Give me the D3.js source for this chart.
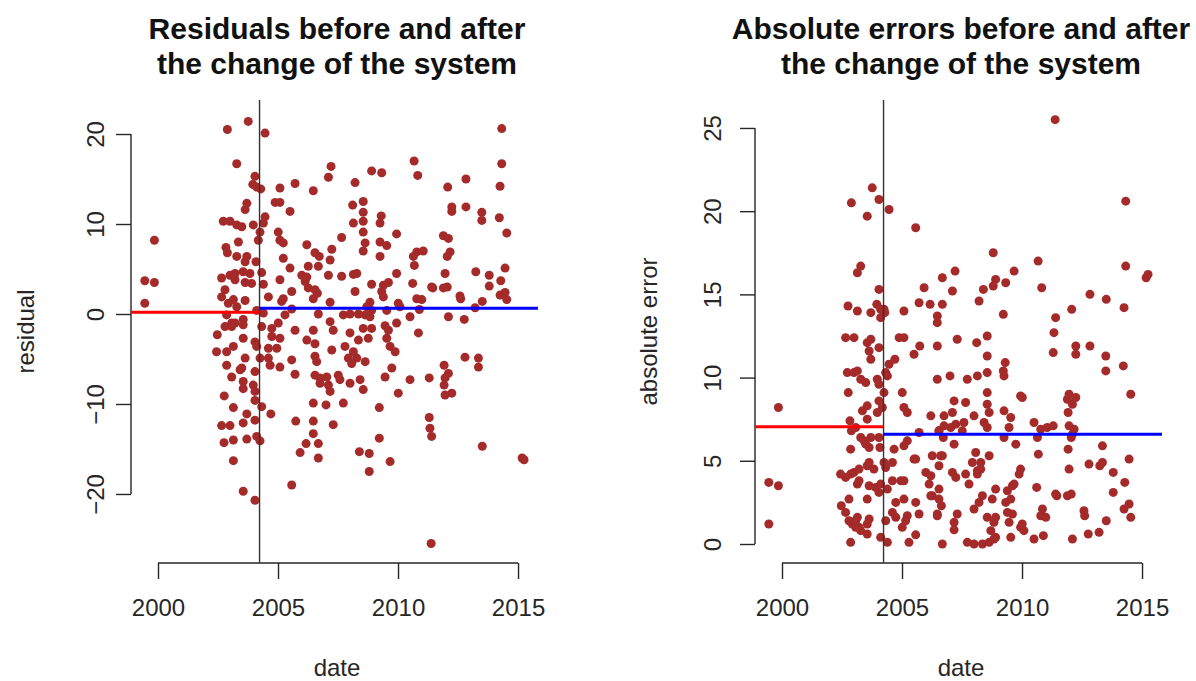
<!DOCTYPE html>
<html><head><meta charset="utf-8">
<script src="https://cdn.jsdelivr.net/npm/d3@7"></script>
<style>
body{margin:0;background:#fff}
text{font-family:"Liberation Sans",Arial,Helvetica,sans-serif}
</style>
</head><body>
<svg id="chart" width="1196" height="681"></svg>
<script>
// ---------------- data ----------------
const dates = [
1999.45,1999.85,1999.85,1999.45,2002.89,2003.28,2002.72,2003.00,2002.83,2002.89,
2002.65,2003.00,2002.79,2002.65,2002.93,2002.86,2003.07,2002.79,2003.07,2002.47,
2002.44,2002.86,2003.14,2002.86,2003.07,2002.76,2003.14,2002.65,2003.00,2002.75,
2003.14,2003.14,2003.76,2004.46,2004.04,2003.95,2004.11,2004.28,2005.08,2005.71,
2006.47,2007.21,2007.10,2004.88,2005.08,2005.50,2003.70,2003.63,2004.46,2004.39,
2003.28,2003.49,2003.97,2004.25,2003.35,2004.18,2005.01,2005.08,2005.22,2006.20,
2006.54,2006.72,2007.24,2003.70,2003.63,2003.28,2004.08,2005.22,2005.50,2006.26,
2006.68,2007.17,2004.32,2003.83,2003.55,2003.21,2005.99,2006.20,2006.13,2007.10,
2005.08,2003.63,2003.90,2004.39,2003.21,2006.26,2006.54,2006.64,2005.57,2005.22,
2005.15,2004.60,2003.63,2006.47,2007.17,2003.14,2003.28,2005.57,2004.11,2004.39,
2003.55,2003.21,2005.29,2004.74,2005.01,2006.68,2007.17,2005.71,2006.47,2004.32,
2010.67,2010.82,2008.90,2009.32,2008.21,2008.55,2008.11,2008.55,2009.30,2009.25,
2008.14,2008.55,2008.55,2007.65,2009.94,2008.63,2008.55,2009.25,2009.53,2009.25,
2010.78,2011.05,2010.64,2010.68,2007.65,2008.14,2008.28,2009.94,2008.90,2009.39,
2009.60,2010.61,2011.40,2008.21,2009.32,2009.39,2008.83,2008.70,2008.90,2010.01,
2010.08,2010.78,2010.99,2010.89,2009.53,2007.72,2008.00,2008.35,2008.63,2008.83,
2010.50,2007.30,2008.55,2008.90,2009.46,2009.60,2009.94,2010.85,2008.00,2014.32,
2014.32,2012.83,2012.07,2014.25,2012.24,2012.24,2012.83,2013.49,2013.49,2014.22,
2014.53,2011.89,2012.10,2012.17,2012.05,2011.96,2013.24,2013.80,2014.46,2014.28,
2013.80,2011.45,2011.89,2012.05,2012.58,2012.61,2014.25,2014.46,2014.53,2013.51,
2013.21,2012.10,2012.76,2003.55,2003.55,2004.04,2004.11,2004.74,2005.08,2004.60,
2004.95,2006.20,2006.54,2007.24,2003.63,2004.25,2004.60,2004.67,2005.57,2006.54,
2006.61,2003.49,2003.42,2004.04,2005.08,2005.71,2006.54,2006.75,2007.03,2006.75,
2007.10,2003.55,2003.55,2003.97,2004.04,2004.04,2007.17,2004.32,2003.70,2004.70,
2004.04,2003.55,2006.47,2007.00,2005.74,2006.47,2007.30,2006.47,2003.70,2004.11,
2004.25,2006.17,2006.68,2005.92,2006.68,2003.55,2004.04,2005.57,2008.35,2008.76,
2009.53,2007.79,2008.14,2007.93,2008.07,2008.28,2008.63,2009.67,2009.88,2009.74,
2009.46,2010.50,2011.30,2007.51,2007.58,2008.00,2008.42,2008.55,2010.01,2007.72,
2009.22,2011.30,2011.33,2011.40,2009.22,2008.39,2008.80,2009.67,2008.80,2011.38,
2012.79,2013.35,2013.35,2011.92,2012.10,2011.96,2011.92,2011.96,2012.24,2013.51,
2015.17,2015.25
];

const residuals = [
3.7,3.5,8.2,1.2,20.5,16.7,10.3,10.3,7.4,6.8,
4.0,4.3,2.7,1.9,1.2,-0.1,-1.0,-1.4,-1.4,-2.3,
-4.2,-4.2,-3.6,-5.7,-7.0,-9.1,-10.4,-12.4,-12.4,-14.3,
-14.0,-16.3,21.4,20.1,15.3,14.4,14.1,13.9,14.0,14.5,
13.7,16.4,15.2,12.4,12.4,11.4,12.3,11.6,10.8,10.1,
9.9,9.7,9.9,9.1,8.0,8.2,9.1,8.2,7.9,7.7,
6.8,6.4,7.2,6.4,5.8,6.4,5.8,6.2,5.1,5.3,
5.3,6.0,4.6,4.5,4.7,4.5,4.3,4.1,3.6,4.3,
3.8,3.5,3.4,3.3,3.8,2.9,2.7,2.3,2.5,1.7,
1.4,1.9,1.5,1.7,1.3,1.6,0.8,0.55,0.4,0.1,
-0.6,-1.0,-0.1,-1.6,-1.0,0.0,-0.85,-1.8,-1.8,-1.4,
17.0,15.4,15.9,15.7,14.6,12.5,12.1,11.3,10.9,10.1,
10.1,10.3,9.1,8.5,8.9,7.9,7.0,8.0,7.6,6.4,
6.9,7.0,6.4,5.4,4.2,4.4,4.5,4.5,3.3,3.2,
3.5,3.4,3.0,2.5,2.5,1.9,1.3,0.8,0.4,1.2,
0.8,1.7,1.6,0.5,0.4,-0.1,0.0,0.0,-0.1,-0.3,
-0.3,-1.8,-1.6,-1.6,-1.3,-1.8,-1.0,-2.1,-2.1,20.6,
16.7,15.0,14.1,14.2,11.9,11.4,11.9,11.3,10.4,10.7,
9.0,8.7,8.4,6.9,6.4,4.5,4.7,4.3,5.1,3.7,
3.1,2.9,2.9,3.0,2.0,1.7,2.1,2.4,1.6,1.4,
0.7,-0.3,-0.6,-1.2,-2.7,-3.1,-3.6,-2.5,-2.7,-3.8,
-3.8,-2.9,-3.3,-4.0,-4.9,-4.9,-4.9,-5.7,-5.1,-4.7,
-5.3,-6.0,-6.2,-6.4,-5.9,-6.7,-6.8,-7.1,-7.0,-7.7,
-7.9,-7.5,-8.3,-7.9,-8.6,-9.6,-8.6,-10.3,-11.1,-11.1,
-11.8,-12.1,-9.9,-10.1,-11.9,-11.9,-12.3,-13.3,-13.9,-13.6,
-14.1,-14.4,-14.4,-15.4,-16.0,-19.7,-20.7,-19.0,-2.9,-2.7,
-2.7,-3.6,-4.2,-4.9,-5.5,-4.9,-5.3,-3.6,-4.2,-6.0,
-7.0,-7.3,-7.1,-6.8,-7.3,-7.7,-7.3,-8.4,-8.8,-9.9,
-10.4,-11.5,-12.7,-13.6,-13.8,-15.3,-15.5,-16.4,-17.5,-25.5,
-4.8,-4.9,-5.9,-5.7,-6.6,-7.1,-7.9,-9.0,-8.8,-14.7,
-16.0,-16.2
];

const absErrors = [
3.7,3.5,8.2,1.2,20.5,16.7,10.3,10.3,7.4,6.8,
4.0,4.3,2.7,1.9,1.2,0.1,1.0,1.4,1.4,2.3,
4.2,4.2,3.6,5.7,7.0,9.1,10.4,12.4,12.4,14.3,
14.0,16.3,21.4,20.1,15.3,14.4,14.1,13.9,14.0,14.5,
13.7,16.4,15.2,12.4,12.4,11.4,12.3,11.6,10.8,10.1,
9.9,9.7,9.9,9.1,8.0,8.2,9.1,8.2,7.9,7.7,
6.8,6.4,7.2,6.4,5.8,6.4,5.8,6.2,5.1,5.3,
5.3,6.0,4.6,4.5,4.7,4.5,4.3,4.1,3.6,4.3,
3.8,3.5,3.4,3.3,3.8,2.9,2.7,2.3,2.5,1.7,
1.4,1.9,1.5,1.7,1.3,1.6,0.8,0.55,0.4,0.1,
0.6,1.0,0.1,1.6,1.0,0.0,0.85,1.8,1.8,1.4,
17.0,15.4,15.9,15.7,14.6,12.5,12.1,11.3,10.9,10.1,
10.1,10.3,9.1,8.5,8.9,7.9,7.0,8.0,7.6,6.4,
6.9,7.0,6.4,5.4,4.2,4.4,4.5,4.5,3.3,3.2,
3.5,3.4,3.0,2.5,2.5,1.9,1.3,0.8,0.4,1.2,
0.8,1.7,1.6,0.5,0.4,0.1,0.0,0.0,0.1,0.3,
0.3,1.8,1.6,1.6,1.3,1.8,1.0,2.1,2.1,20.6,
16.7,15.0,14.1,14.2,11.9,11.4,11.9,11.3,10.4,10.7,
9.0,8.7,8.4,6.9,6.4,4.5,4.7,4.3,5.1,3.7,
3.1,2.9,2.9,3.0,2.0,1.7,2.1,2.4,1.6,1.4,
0.7,0.3,0.6,1.2,2.7,3.1,3.6,2.5,2.7,3.8,
3.8,2.9,3.3,4.0,4.9,4.9,4.9,5.7,5.1,4.7,
5.3,6.0,6.2,6.4,5.9,6.7,6.8,7.1,7.0,7.7,
7.9,7.5,8.3,7.9,8.6,9.6,8.6,10.3,11.1,11.1,
11.8,12.1,9.9,10.1,11.9,11.9,12.3,13.3,13.9,13.6,
14.1,14.4,14.4,15.4,16.0,19.7,20.7,19.0,2.9,2.7,
2.7,3.6,4.2,4.9,5.5,4.9,5.3,3.6,4.2,6.0,
7.0,7.3,7.1,6.8,7.3,7.7,7.3,8.4,8.8,9.9,
10.4,11.5,12.7,13.6,13.8,15.3,15.5,16.4,17.5,25.5,
4.8,4.9,5.9,5.7,6.6,7.1,7.9,9.0,8.8,14.7,
16.0,16.2
];

const changeDate = 2004.23;          // date of the change of the system
const segmentEnd = 2015.83;          // right end of the "after" mean line
const residualMeans = [0.2, 0.65];   // before, after
const absErrorMeans = [7.05, 6.6];   // before, after

const xTicks = [2000, 2005, 2010, 2015];
const residualTicks = [-20, -10, 0, 10, 20];
const absErrorTicks = [0, 5, 10, 15, 20, 25];

const titles = [
  ["Residuals before and after", "the change of the system"],
  ["Absolute errors before and after", "the change of the system"]
];
const yLabels = ["residual", "absolute error"];
const xLabel = "date";

// ---------------- drawing ----------------
const svg = d3.select("#chart");
const TOP = 100, BOTTOM = 563, PW = 412;
const ink = "#262626";
const FS = 24, TFS = 30;
const FONT = '"Liberation Sans",Arial,Helvetica,sans-serif';

function panel(cfg) {
  const L = cfg.left;
  const x = d3.scaleLinear().domain([1998.875, 2016.04]).range([L, L + PW]);
  const y = d3.scaleLinear().domain(cfg.yDomain).range([BOTTOM, TOP]);
  const g = svg.append("g");
  const cx = L + PW / 2;

  // title
  g.append("text").attr("x", cx).attr("y", 39).attr("text-anchor", "middle")
    .attr("font-weight", "bold").attr("font-size", TFS).attr("fill", "#111").text(cfg.title[0]);
  g.append("text").attr("x", cx).attr("y", 74).attr("text-anchor", "middle")
    .attr("font-weight", "bold").attr("font-size", TFS).attr("fill", "#111").text(cfg.title[1]);

  // x axis
  const xa = g.append("g").attr("transform", `translate(0,${BOTTOM})`)
    .call(d3.axisBottom(x).tickValues(xTicks).tickSize(16).tickPadding(20).tickFormat(d3.format("d")));
  xa.select(".domain").remove();
  xa.selectAll("line").attr("stroke", ink).attr("stroke-width", 1.4);
  xa.selectAll("text").attr("font-size", FS).attr("fill", ink).attr("font-family", FONT);
  xa.append("line").attr("x1", x(xTicks[0])).attr("x2", x(xTicks[xTicks.length - 1]))
    .attr("y1", 0).attr("y2", 0).attr("stroke", ink).attr("stroke-width", 1.4);

  // y axis
  const ya = g.append("g").attr("transform", `translate(${L},0)`)
    .call(d3.axisLeft(y).tickValues(cfg.yTicks).tickSize(15));
  ya.select(".domain").remove();
  ya.selectAll("line").attr("stroke", ink).attr("stroke-width", 1.4);
  ya.selectAll("text")
    .attr("transform", "rotate(-90)")
    .attr("x", 0).attr("y", -cfg.tickLabelOffset).attr("dy", 0)
    .attr("text-anchor", "middle").attr("font-size", FS).attr("fill", ink)
    .attr("font-family", FONT);
  ya.append("line").attr("x1", 0).attr("x2", 0)
    .attr("y1", y(cfg.yTicks[0])).attr("y2", y(cfg.yTicks[cfg.yTicks.length - 1]))
    .attr("stroke", ink).attr("stroke-width", 1.4);

  // axis labels
  g.append("text").attr("x", cx).attr("y", 676).attr("text-anchor", "middle")
    .attr("font-size", FS).attr("fill", ink).text(xLabel);
  g.append("text").attr("transform", `translate(${L - cfg.titleOffset},${(TOP + BOTTOM) / 2}) rotate(-90)`)
    .attr("text-anchor", "middle").attr("font-size", FS).attr("fill", ink).text(cfg.yLabel);

  // points
  g.append("g").selectAll("circle").data(cfg.values.map((v, i) => [dates[i], v]))
    .join("circle")
    .attr("cx", d => x(d[0])).attr("cy", d => y(d[1])).attr("r", 4.5)
    .attr("fill", "#a52a2a");

  // vertical change line
  g.append("line").attr("x1", x(changeDate)).attr("x2", x(changeDate))
    .attr("y1", TOP).attr("y2", BOTTOM).attr("stroke", "#333").attr("stroke-width", 1.4);

  // mean lines
  g.append("line").attr("x1", x.range()[0]).attr("x2", x(changeDate))
    .attr("y1", y(cfg.means[0])).attr("y2", y(cfg.means[0]))
    .attr("stroke", "#ff0000").attr("stroke-width", 3);
  g.append("line").attr("x1", x(changeDate)).attr("x2", x(segmentEnd))
    .attr("y1", y(cfg.means[1])).attr("y2", y(cfg.means[1]))
    .attr("stroke", "#0000ff").attr("stroke-width", 3);
}

panel({
  left: 131, yDomain: [-27.67, 23.78], yTicks: residualTicks, values: residuals,
  means: residualMeans, title: titles[0], yLabel: yLabels[0],
  tickLabelOffset: 27, titleOffset: 97
});
panel({
  left: 755, yDomain: [-1.142, 26.68], yTicks: absErrorTicks, values: absErrors,
  means: absErrorMeans, title: titles[1], yLabel: yLabels[1],
  tickLabelOffset: 34, titleOffset: 98
});
</script>
</body></html>
